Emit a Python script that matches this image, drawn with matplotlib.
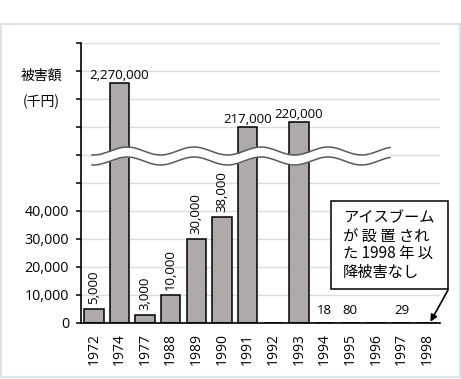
import numpy as np
import matplotlib
matplotlib.use('Agg')
import matplotlib.pyplot as plt
from matplotlib.patches import Rectangle
from matplotlib.ticker import FixedLocator, FuncFormatter, NullLocator

# ---------------- data ----------------
years = ['1972', '1974', '1977', '1988', '1989', '1990', '1991',
         '1992', '1993', '1994', '1995', '1996', '1997', '1998']
damage = [5000, 2270000, 3000, 10000, 30000, 38000, 217000,
          0, 220000, 18, 80, 0, 29, 0]
shown_ytick_values = [0, 10000, 20000, 30000, 40000]
ylabel_lines = ['被害額', '(千円)']
note_lines = ['アイスブーム', 'が 設 置 され', 'た 1998 年 以', '降被害なし']

# broken-axis mapping (real value -> drawn height)
break_real = [0, 50000, 217000, 220000, 2270000, 4000000]
break_disp = [0, 50000, 70100, 71900, 85700, 100000]


def fwd(v):
    return np.interp(v, break_real, break_disp)


def inv(d):
    return np.interp(d, break_disp, break_real)


plt.rcParams['font.family'] = ['Open Sans', 'Noto Sans CJK JP', 'DejaVu Sans']

W, H = 461, 379
fig = plt.figure(figsize=(W / 100, H / 100), dpi=100)
fig.patch.set_facecolor('white')

# outer chart-area frame
fig.add_artist(Rectangle((1 / W, 2 / H), 459 / W, 353 / H, fill=False,
                         ec='#DFE3E8', lw=1.5, transform=fig.transFigure))

ax = fig.add_axes([81 / W, 1 - 323 / H, (440 - 81) / W, (323 - 43) / H])
ax.set_yscale('function', functions=(fwd, inv))

x = np.arange(len(years))
ax.bar(x, damage, width=0.76, color='#AEAAAA', edgecolor='black',
       linewidth=1.1, zorder=2)
ax.set_xlim(-0.5, len(years) - 0.5)
ax.set_ylim(0, break_real[-1])

disp_ticks = np.arange(0, 100001, 10000)
ax.yaxis.set_major_locator(FixedLocator(inv(disp_ticks)))
ax.yaxis.set_minor_locator(NullLocator())
ax.yaxis.set_major_formatter(FuncFormatter(
    lambda v, p: f'{v:,.0f}' if round(v) in shown_ytick_values else ''))
ax.set_xticks(x)
ax.set_xticklabels(years)

ax.grid(axis='y', color='#DADDE2', lw=1.0, zorder=0)
ax.set_axisbelow(True)
for s in ['top', 'right']:
    ax.spines[s].set_visible(False)
for s in ['left', 'bottom']:
    ax.spines[s].set_color('black')
    ax.spines[s].set_linewidth(1.2)
ax.spines['bottom'].set_zorder(5)

ax.tick_params(axis='y', direction='out', length=3.6, width=1.1,
               labelsize=10.3, pad=5, colors='black')
ax.tick_params(axis='x', length=0, labelrotation=90, labelsize=10, pad=7)

# wavy break
xs = np.linspace((92 - 81) / 359, (390 - 81) / 359, 400)
period = 67 / 359
phase = (127 - 81) / 359
amp = 4 / 280
top = (323 - 151) / 280 + amp * np.cos(2 * np.pi * (xs - phase) / period)
bot = top - 10 / 280
ax.fill_between(xs, bot, top, color='white', lw=0, transform=ax.transAxes,
                zorder=3)
ax.plot(xs, top, color='#595959', lw=1.1, transform=ax.transAxes, zorder=4)
ax.plot(xs, bot, color='#595959', lw=1.1, transform=ax.transAxes, zorder=4)

# data labels
for xi, v in zip(x, damage):
    if v == 0:
        continue
    txt = f'{v:,}'
    if v >= 100000:
        ax.annotate(txt, (xi, v), xytext=(0, 4), textcoords='offset pixels',
                    ha='center', va='baseline', fontsize=9.5, zorder=6)
    elif v >= 1000:
        ax.annotate(txt, (xi, v), xytext=(0, 5), textcoords='offset pixels',
                    ha='center', va='bottom', rotation=90, fontsize=9.5,
                    zorder=6)
    else:
        ax.annotate(txt, (xi, v), xytext=(0, 9), textcoords='offset pixels',
                    ha='center', va='baseline', fontsize=9.5, zorder=6)

# y-axis title
fig.text(41 / W, 1 - 76 / H, ylabel_lines[0], ha='center', va='center',
         fontsize=10, family=['Noto Sans CJK JP', 'DejaVu Sans'])
fig.text(41 / W, 1 - 102 / H, ylabel_lines[1], ha='center', va='center',
         fontsize=10, family=['Noto Sans CJK JP', 'DejaVu Sans'])

# note box
fig.add_artist(Rectangle((331 / W, 1 - 289 / H), 117 / W, 88 / H,
                         transform=fig.transFigure, fc='white', ec='black',
                         lw=1.1, zorder=5))
line_y = [217.5, 236, 254, 272]
for ln, yy in zip(note_lines, line_y):
    fig.text(343 / W, 1 - yy / H, ln, ha='left', va='center', fontsize=11,
             family=['Noto Sans CJK JP', 'DejaVu Sans'], zorder=6)

ax.annotate('', xy=(years.index('1998') + 0.1, 0), xycoords='data',
            xytext=(448, H - 290), textcoords='figure pixels',
            arrowprops=dict(arrowstyle='-|>', color='black', lw=1.2,
                            mutation_scale=10, shrinkA=0, shrinkB=1),
            annotation_clip=False, zorder=7)

fig.savefig('out.png', dpi=100)
